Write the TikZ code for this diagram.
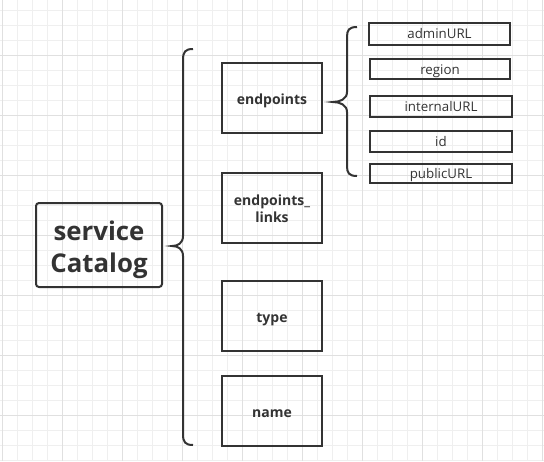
\documentclass[tikz,border=0pt]{standalone}
\usepackage{fontspec}
\setmainfont{Open Sans}
\definecolor{ink}{HTML}{333333}
\definecolor{gminor}{HTML}{EFEFEF}
\definecolor{gmajor}{HTML}{E0E0E0}
\begin{document}
\begin{tikzpicture}[x=1pt,y=-1pt,
  box/.style={draw=ink,line width=2pt,rectangle,inner sep=0pt,text=ink,align=center},
  midbox/.style={box,minimum width=100pt,minimum height=70pt,text height=14.5pt,text depth=1pt,font=\fontsize{14}{16.5}\selectfont\bfseries},
  leafbox/.style={box,minimum width=142pt,minimum height=21pt,text height=11pt,text depth=1pt,font=\fontsize{13.3}{15}\selectfont},
  rootbox/.style={box,rounded corners=3pt,minimum width=126pt,minimum height=84pt,text height=56pt,text depth=2pt,font=\fontsize{25.8}{32}\selectfont\bfseries},
  brace/.style={draw=ink,line width=2pt}]
\useasboundingbox (0,0) rectangle (544,461);
\fill[white] (0,0) rectangle (544,461);
\foreach \x in {2,17,...,542} \draw[gminor,line width=1pt] (\x,0) -- (\x,461);
\foreach \y in {10,25,...,460} \draw[gminor,line width=1pt] (0,\y) -- (544,\y);
\foreach \x in {2,62,...,542} \draw[gmajor,line width=1pt] (\x,0) -- (\x,461);
\foreach \y in {55,115,...,415} \draw[gmajor,line width=1pt] (0,\y) -- (544,\y);

\node[rootbox] (root) at (99,245) {service\\Catalog};
\node[midbox] (ep) at (272,98) {endpoints};
\node[midbox,text height=29pt] (epl) at (272,208) {endpoints\_\\links};
\node[midbox] (type) at (272,316) {type};
\node[midbox] (name) at (272,411) {name};

\node[leafbox,minimum width=141pt,minimum height=22pt] (admin) at (439.5,33.5) {adminURL};
\node[leafbox,minimum width=140pt,minimum height=20pt] (region) at (440,69) {region};
\node[leafbox] (internal) at (441,106.5) {internalURL};
\node[leafbox] (id) at (441,141.5) {id};
\node[leafbox,minimum height=19pt] (public) at (441,173.5) {publicURL};

% big brace
\coordinate (bt) at (193,49);
\coordinate (btip) at (172,246);
\coordinate (bb) at (193,445);
\draw[brace] (bt) .. controls (185,49) and (183,52) .. (183,60) -- (183,236)
  .. controls (183,243) and (178,246) .. (btip)
  .. controls (178,246) and (183,249) .. (183,256) -- (183,434)
  .. controls (183,442) and (185,445) .. (bb);
% small brace
\coordinate (st) at (357,27);
\coordinate (stip) at (333,102);
\coordinate (sb) at (357,176);
\draw[brace] (st) .. controls (349,27) and (347,30) .. (347,37) -- (347,92)
  .. controls (347,99) and (340,102) .. (stip)
  .. controls (340,102) and (347,105) .. (347,112) -- (347,166)
  .. controls (347,173) and (349,176) .. (sb);
\end{tikzpicture}
\end{document}
